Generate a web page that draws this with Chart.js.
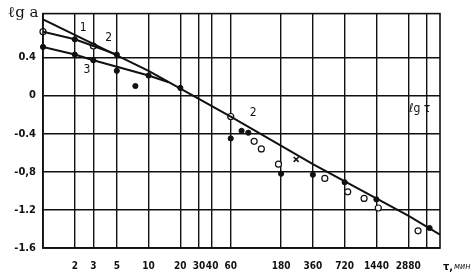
<!DOCTYPE html>
<html>
<head>
<meta charset="utf-8">
<script src="https://cdn.jsdelivr.net/npm/chart.js@4/dist/chart.umd.min.js"></script>
<style>
  body { margin: 0; background: #fff; }
</style>
</head>
<body>
<canvas id="grafico" width="476" height="278"></canvas>
<script>
// asse x: tempo tau in minuti (scala log), asse y: lg a
var tickTau = [2, 3, 5, 10, 20, 30, 40, 60, 180, 360, 720, 1440, 2880, 4320];
var tickTauLabels = ['2', '3', '5', '10', '20', '30', '40', '60', '180', '360', '720', '1440', '2880', ''];
var tickLg = [-1.6, -1.2, -0.8, -0.4, 0, 0.4];
var tickLgLabels = ['-1.6', '-1.2', '-0,8', '-0.4', '0', '0.4'];

// rette 1, 2, 3
var retta1Tau = [1, 10, 60, 360, 2880, 5760];
var retta1Lg = [0.80, 0.26, -0.22, -0.72, -1.26, -1.46];
var retta2Tau = [1, 2, 3, 5];
var retta2Lg = [0.67, 0.59, 0.52, 0.43];
var retta3Tau = [1, 2, 3, 10, 15.5];
var retta3Lg = [0.51, 0.43, 0.37, 0.21, 0.14];

// punti sperimentali pieni
var pieniTau = [2, 5, 1, 2, 3, 10, 5, 7.5, 20, 60, 76, 88, 180, 360, 720, 1440, 4590];
var pieniLg = [0.59, 0.43, 0.51, 0.43, 0.37, 0.21, 0.26, 0.10, 0.08, -0.45, -0.37, -0.39, -0.82, -0.83, -0.91, -1.09, -1.39];
// punti vuoti
var vuotiTau = [1, 3, 60, 100, 117, 170, 467, 770, 1100, 1500, 3570];
var vuotiLg = [0.67, 0.52, -0.22, -0.48, -0.56, -0.72, -0.87, -1.01, -1.08, -1.18, -1.42];
// croce
var croceTau = [250];
var croceLg = [-0.67];

// etichette dentro il grafico: testo, tau, lg a
var etichette = [
   ['1', 2.4, 0.71],
   ['2', 4.2, 0.61],
   ['3', 2.6, 0.27],
   ['2', 98, -0.18],
   ['\u2113g \u03c4', 3700, -0.14]
];

function punti(xs, ys) {
   var out = [];
   for (var i = 0; i < xs.length; i++) {
      out.push({ x: xs[i], y: ys[i] });
   }
   return out;
}

var nero = '#111';
var famiglia = "'DejaVu Sans Condensed', 'DejaVu Sans', sans-serif";

// cornice del grafico + testi
var cornice = {
   id: 'cornice',
   afterDatasetsDraw: function(chart) {
      var ctx = chart.ctx;
      var a = chart.chartArea;
      var sx = chart.scales.x;
      var sy = chart.scales.y;
      ctx.save();
      ctx.strokeStyle = nero;
      ctx.lineWidth = 1.6;
      ctx.strokeRect(a.left, a.top, a.right - a.left, a.bottom - a.top);

      ctx.fillStyle = nero;
      ctx.font = "12px " + famiglia;
      ctx.textAlign = 'center';
      ctx.textBaseline = 'middle';
      for (var i = 0; i < etichette.length; i++) {
         var e = etichette[i];
         ctx.fillText(e[0], sx.getPixelForValue(e[1]), sy.getPixelForValue(e[2]));
      }

      ctx.font = "15px 'DejaVu Serif', serif";
      ctx.textAlign = 'left';
      ctx.fillText('\u2113g a', 8, a.top);

      ctx.font = "bold 11px " + famiglia;
      ctx.fillText('\u03c4,', a.right + 3, a.bottom + 19);
      ctx.font = "italic 8px 'DejaVu Sans', sans-serif";
      ctx.fillText('\u043c\u0438\u043d', a.right + 14, a.bottom + 19);
      ctx.restore();
   }
};

var ctx = document.getElementById('grafico').getContext('2d');
var chart = new Chart(ctx, {
   type: 'scatter',
   data: {
      datasets: [
         {
            type: 'line',
            data: punti(retta1Tau, retta1Lg),
            borderColor: nero, borderWidth: 2, pointRadius: 0, tension: 0
         },
         {
            type: 'line',
            data: punti(retta2Tau, retta2Lg),
            borderColor: nero, borderWidth: 2, pointRadius: 0, tension: 0
         },
         {
            type: 'line',
            data: punti(retta3Tau, retta3Lg),
            borderColor: nero, borderWidth: 2, pointRadius: 0, tension: 0
         },
         {
            data: punti(pieniTau, pieniLg),
            pointRadius: 2.6, pointBackgroundColor: nero, pointBorderColor: nero,
            clip: false
         },
         {
            data: punti(vuotiTau, vuotiLg),
            pointRadius: 3, pointBackgroundColor: '#fff', pointBorderColor: nero,
            pointBorderWidth: 1.2, clip: false
         },
         {
            data: punti(croceTau, croceLg),
            pointStyle: 'crossRot', pointRadius: 3.5, pointBorderColor: nero,
            pointBorderWidth: 1.5
         }
      ]
   },
   options: {
      responsive: false,
      animation: false,
      layout: { padding: { top: 10, right: 36, left: 0, bottom: 0 } },
      plugins: { legend: { display: false }, tooltip: { enabled: false } },
      scales: {
         x: {
            type: 'logarithmic',
            min: 1,
            max: 5760,
            afterBuildTicks: function(scale) {
               scale.ticks = tickTau.map(function(v) { return { value: v }; });
            },
            afterFit: function(scale) { scale.height = 30; },
            grid: { color: nero, lineWidth: 1.4, drawTicks: false },
            border: { color: nero, width: 1.6 },
            ticks: {
               autoSkip: false, maxRotation: 0, padding: 12, color: nero,
               font: { family: famiglia, size: 10, weight: 'bold' },
               callback: function(v, i) { return tickTauLabels[i]; }
            }
         },
         y: {
            type: 'linear',
            min: -1.6,
            max: 0.86,
            afterBuildTicks: function(scale) {
               scale.ticks = tickLg.map(function(v) { return { value: v }; });
            },
            afterFit: function(scale) { scale.width = 43; },
            grid: { color: nero, lineWidth: 1.4, drawTicks: false },
            border: { color: nero, width: 1.6 },
            ticks: {
               padding: 7, color: nero,
               font: { family: famiglia, size: 11, weight: 'bold' },
               callback: function(v, i) { return tickLgLabels[i]; }
            }
         }
      }
   },
   plugins: [cornice]
});
</script>
</body>
</html>
